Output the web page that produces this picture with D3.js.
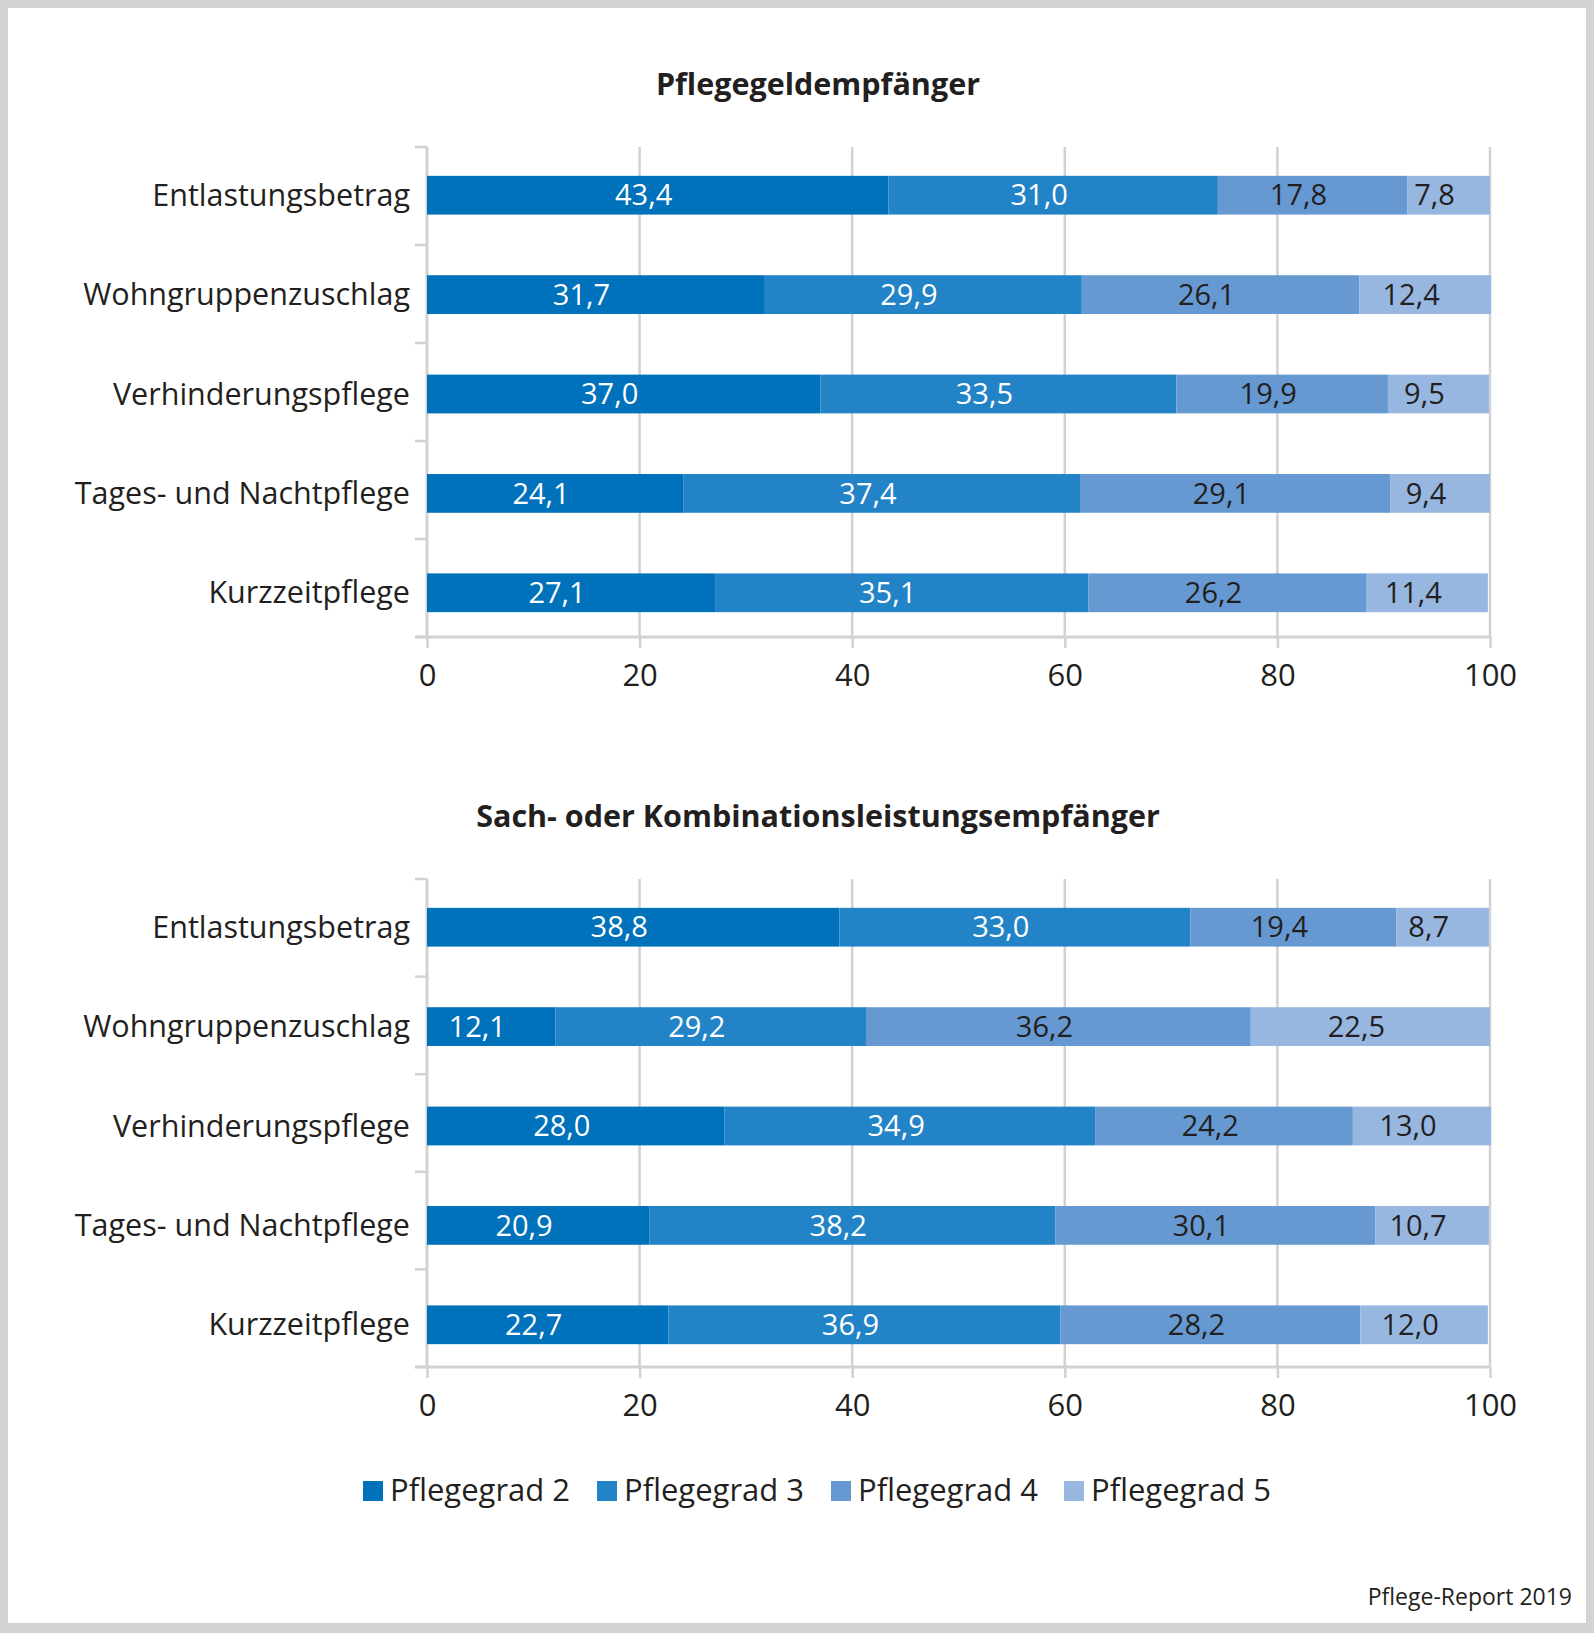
<!DOCTYPE html>
<html>
<head>
<meta charset="utf-8">
<script src="https://cdn.jsdelivr.net/npm/d3@7"></script>
<style>
  html, body { margin: 0; padding: 0; background: #fff; }
  svg { display: block; }
  text { font-family: "Open Sans", "Noto Sans", sans-serif; fill: #231f20; }
</style>
</head>
<body>
<svg id="chart" width="1594" height="1633"></svg>
<script>
// ---- Data ----
const categories = ["Entlastungsbetrag", "Wohngruppenzuschlag", "Verhinderungspflege", "Tages- und Nachtpflege", "Kurzzeitpflege"];
const seriesNames = ["Pflegegrad 2", "Pflegegrad 3", "Pflegegrad 4", "Pflegegrad 5"];
const xTicks = [0, 20, 40, 60, 80, 100];

const title1 = "Pflegegeldempfänger";
const pg2_a = [43.4, 31.7, 37.0, 24.1, 27.1];
const pg3_a = [31.0, 29.9, 33.5, 37.4, 35.1];
const pg4_a = [17.8, 26.1, 19.9, 29.1, 26.2];
const pg5_a = [7.8, 12.4, 9.5, 9.4, 11.4];

const title2 = "Sach- oder Kombinationsleistungsempfänger";
const pg2_b = [38.8, 12.1, 28.0, 20.9, 22.7];
const pg3_b = [33.0, 29.2, 34.9, 38.2, 36.9];
const pg4_b = [19.4, 36.2, 24.2, 30.1, 28.2];
const pg5_b = [8.7, 22.5, 13.0, 10.7, 12.0];

const source = "Pflege-Report 2019";

// ---- Styles ----
const colors = ["#0071bb", "#2383c7", "#6699d2", "#97b7e1"];
const labelColors = ["#ffffff", "#ffffff", "#231f20", "#231f20"];
const gridColor = "#d1d2d4";
const catFont = 30.5;
const tickFont = 31;
const legendFont = 31;
const valFont = 29;

const svg = d3.select("#chart");
const W = 1594, H = 1633;

// frame
svg.append("rect").attr("x", 0).attr("y", 0).attr("width", W).attr("height", H).attr("fill", "#d1d3d4");
svg.append("rect").attr("x", 8).attr("y", 8).attr("width", W - 16).attr("height", H - 18).attr("fill", "#ffffff");

const x = d3.scaleLinear().domain([0, 100]).range([427, 1490]);

function panel(title, titleY, top, bottom, s2, s3, s4, s5) {
  const rows = categories.map((c, i) => ({cat: c, pg2: s2[i], pg3: s3[i], pg4: s4[i], pg5: s5[i]}));
  const keys = ["pg2", "pg3", "pg4", "pg5"];
  const stacked = d3.stack().keys(keys)(rows);

  // category band (axis ticks) and bar band
  const yAxisBand = d3.scaleBand().domain(categories).range([top, bottom]);
  const y = d3.scaleBand().domain(categories).range([top, top + 494]).paddingInner(0.61).paddingOuter(0.29);
  const g = svg.append("g");

  // title
  g.append("text").attr("x", 818).attr("y", titleY).attr("text-anchor", "middle")
    .style("font-weight", "bold").style("font-size", "30.5px").text(title);

  // gridlines
  g.append("g").selectAll("line").data(xTicks.filter(t => t > 0)).join("line")
    .attr("x1", d => x(d)).attr("x2", d => x(d)).attr("y1", top).attr("y2", bottom)
    .attr("stroke", gridColor).attr("stroke-width", 2.5);

  // x axis
  const xAxis = d3.axisBottom(x).tickValues(xTicks).tickSize(11).tickPadding(16).tickFormat(d3.format("d"));
  const xg = g.append("g").attr("transform", `translate(0,${bottom})`).call(xAxis);
  xg.select(".domain").remove();
  xg.append("line").attr("x1", 415).attr("x2", x(100)).attr("y1", 0).attr("y2", 0)
    .attr("stroke", gridColor).attr("stroke-width", 3);
  xg.selectAll(".tick line").attr("stroke", gridColor).attr("stroke-width", 2.5);
  xg.selectAll(".tick text").style("font-size", tickFont + "px").style("font-family", null).attr("fill", "#231f20");

  // y axis (category boundary ticks)
  const bounds = categories.map(c => yAxisBand(c)).concat([bottom]);
  g.append("line").attr("x1", x(0)).attr("x2", x(0)).attr("y1", top).attr("y2", bottom)
    .attr("stroke", gridColor).attr("stroke-width", 3);
  g.append("g").selectAll("line").data(bounds).join("line")
    .attr("x1", 415).attr("x2", x(0)).attr("y1", d => d).attr("y2", d => d)
    .attr("stroke", gridColor).attr("stroke-width", 2.5);

  // category labels
  g.append("g").selectAll("text").data(categories).join("text")
    .attr("x", 410).attr("y", d => y(d) + y.bandwidth() / 2).attr("dy", "0.35em")
    .attr("text-anchor", "end").style("font-size", catFont + "px").text(d => d);

  // bars
  stacked.forEach((layer, si) => {
    const lg = g.append("g");
    lg.selectAll("rect").data(layer).join("rect")
      .attr("x", d => x(d[0])).attr("width", d => x(d[1]) - x(d[0]))
      .attr("y", d => y(d.data.cat)).attr("height", y.bandwidth())
      .attr("fill", colors[si]);
    lg.selectAll("text").data(layer).join("text")
      .attr("x", d => (x(d[0]) + x(d[1])) / 2 - 14)
      .attr("y", d => y(d.data.cat) + y.bandwidth() / 2).attr("dy", "0.35em")
      .attr("text-anchor", "middle").style("font-size", valFont + "px")
      .style("fill", labelColors[si])
      .text(d => d3.format(".1f")(d[1] - d[0]).replace(".", ","));
  });
}

panel(title1, 95, 147, 637, pg2_a, pg3_a, pg4_a, pg5_a);
panel(title2, 827, 879, 1367, pg2_b, pg3_b, pg4_b, pg5_b);

// legend
const legend = svg.append("g");
const legendX = [363, 597, 831, 1064];
seriesNames.forEach((n, i) => {
  legend.append("rect").attr("x", legendX[i]).attr("y", 1481).attr("width", 20).attr("height", 20).attr("fill", colors[i]);
  legend.append("text").attr("x", legendX[i] + 27).attr("y", 1490).attr("dy", "0.35em")
    .style("font-size", legendFont + "px").text(n);
});

// source
svg.append("text").attr("x", 1572).attr("y", 1605).attr("text-anchor", "end")
  .style("font-size", "23px").text(source);
</script>
</body>
</html>
